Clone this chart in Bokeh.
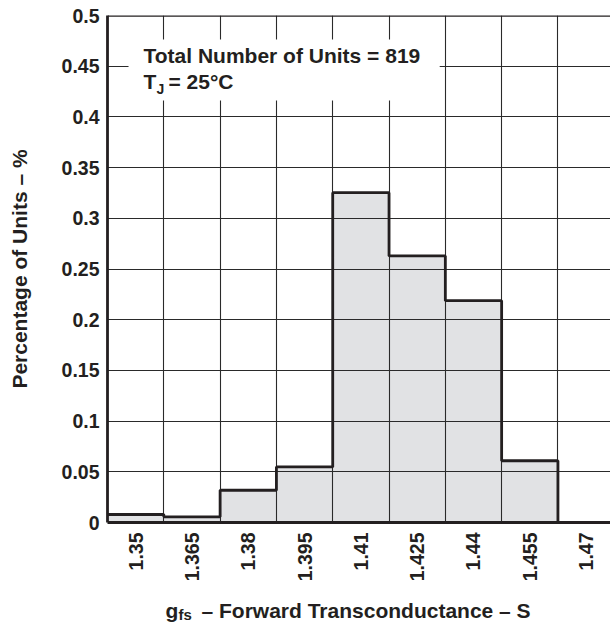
from math import pi
from bokeh.plotting import figure
from bokeh.layouts import column
from bokeh.models import Range1d, FixedTicker, Label, BoxAnnotation, Span
from bokeh.core.properties import value
from bokeh.embed import file_html
from bokeh.resources import INLINE

# ---- data ----
bin_centers = [1.35, 1.365, 1.38, 1.395, 1.41, 1.425, 1.44, 1.455, 1.47]
bin_labels = ["1.35", "1.365", "1.38", "1.395", "1.41", "1.425", "1.44", "1.455", "1.47"]
bin_width = 0.015
pct_units = [0.0079, 0.0056, 0.0318, 0.0548, 0.3253, 0.2629, 0.2188, 0.0609, 0.0]
y_ticks = [0, 0.05, 0.1, 0.15, 0.2, 0.25, 0.3, 0.35, 0.4, 0.45, 0.5]
y_tick_labels = ["0", "0.05", "0.1", "0.15", "0.2", "0.25", "0.3", "0.35", "0.4", "0.45", "0.5"]

FONT = "Liberation Sans"
INK = "#231f20"

left_edges = [round(c - bin_width / 2, 4) for c in bin_centers]
right_edges = [round(c + bin_width / 2, 4) for c in bin_centers]
edges = left_edges + [right_edges[-1]]

p = figure(width=610, height=590, output_backend="svg", toolbar_location=None,
           x_range=Range1d(left_edges[0], 1.4765), y_range=Range1d(0, 0.5),
           min_border_left=107, min_border_right=0, min_border_top=15, min_border_bottom=68)
p.outline_line_color = None
p.background_fill_color = "white"
p.border_fill_color = "white"

# bars (fill only), drawn beneath the grid
bars = p.quad(left=left_edges, right=right_edges, bottom=0, top=pct_units,
              fill_color="#e1e2e4", line_color=None)
bars.level = "image"

# thick histogram envelope
p.step(x=edges, y=pct_units + [pct_units[-1]], mode="after",
       line_color=INK, line_width=2.8)

# axes
p.xaxis.ticker = FixedTicker(ticks=bin_centers)
p.xaxis.major_label_overrides = dict(zip(bin_centers, bin_labels))
p.xaxis.major_label_orientation = pi / 2
p.yaxis.ticker = FixedTicker(ticks=y_ticks)
p.yaxis.major_label_overrides = dict(zip(y_ticks, y_tick_labels))
for ax in (p.xaxis, p.yaxis):
    ax.major_tick_out = 0
    ax.major_tick_in = 0
    ax.minor_tick_out = 0
    ax.minor_tick_in = 0
    ax.axis_line_color = INK
    ax.axis_line_width = 2.8
    ax.major_label_text_font = FONT
    ax.major_label_text_font_style = "bold"
    ax.major_label_text_font_size = "19.5px"
    ax.major_label_text_color = INK
p.xaxis.major_label_standoff = 10
p.yaxis.major_label_standoff = 8
p.yaxis.axis_label = "Percentage of Units \u2013 %"
p.yaxis.axis_label_text_font = FONT
p.yaxis.axis_label_text_font_style = "bold"
p.yaxis.axis_label_text_font_size = "21px"
p.yaxis.axis_label_text_color = INK
p.yaxis.axis_label_standoff = 28

# grid
p.xgrid.ticker = FixedTicker(ticks=edges)
p.ygrid.ticker = FixedTicker(ticks=y_ticks)
for g in (p.xgrid, p.ygrid):
    g.grid_line_color = "#2a2a2a"
    g.grid_line_width = 1.1

# top border
p.add_layout(Span(location=0.5, dimension="width", line_color=INK, line_width=2.4))

# white box behind annotation text
p.add_layout(BoxAnnotation(left=1.3481, right=1.4310, bottom=0.4162, top=0.4763,
                           fill_color="white", fill_alpha=1.0, line_color=None))

def lab(text, x, y, size="21px"):
    p.add_layout(Label(text=text, x=x, y=y, x_units="screen", y_units="screen",
                       text_font=FONT, text_font_style="bold", text_font_size=size,
                       text_color=INK, text_baseline="alphabetic"))

# annotation
lab("Total Number of Units = 819", 36, 467)
lab("T", 36, 441)
lab("J", 49, 434, size="14px")
lab("= 25\u00b0C", 61, 441)

# x-axis title in a strip below the chart (its frame is aligned with the chart's frame)
t = figure(width=610, height=36, output_backend="svg", toolbar_location=None,
           x_range=Range1d(107, 610), y_range=Range1d(0, 36),
           x_axis_type=None, y_axis_type=None,
           min_border_left=107, min_border_right=0, min_border_top=0, min_border_bottom=0)
t.outline_line_color = None
t.xgrid.visible = False
t.ygrid.visible = False
t.background_fill_color = "white"
t.border_fill_color = "white"
t.text(x=[165, 201], y=[16, 16], text=["g", "\u2013 Forward Transconductance \u2013 S"],
       text_font=value(FONT), text_font_style="bold", text_font_size="21px",
       text_color=INK, text_baseline="alphabetic")
t.text(x=[178], y=[12], text=["fs"],
       text_font=value(FONT), text_font_style="bold", text_font_size="15px",
       text_color=INK, text_baseline="alphabetic")

layout = column(p, t, spacing=0)
open("out.html", "w").write(file_html(layout, INLINE))
